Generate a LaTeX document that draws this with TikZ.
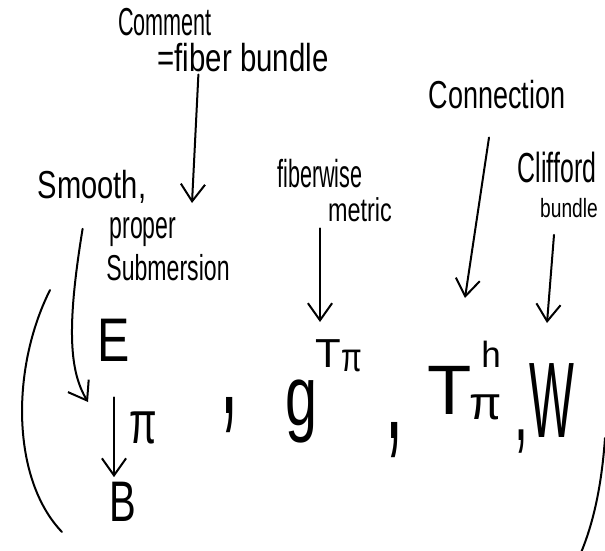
\documentclass[tikz,border=0pt]{standalone}
\usepackage{fontspec}
\setmainfont{Liberation Sans}
\usetikzlibrary{arrows.meta}

\begin{document}
\begin{tikzpicture}[
    x=1pt, y=-1pt,
    >={Straight Barb[length=6mm, width=8.5mm]},
    note/.style={inner sep=0pt, font=\fontsize{30}{32}\selectfont},
    sym/.style={inner sep=0pt},
    pen/.style={line width=2pt, line cap=round},
    hint/.style={pen, ->},
]
\useasboundingbox (0,0) rectangle (605,551);

% ============================ notes =====================================
\node[note] (comment) at (165,22) {\scalebox{0.72}[1.3]{Comment}};
\node[note] (fiber) at (243,58) {\scalebox{0.98}[1.3]{=fiber bundle}};
\node[note] (smooth) at (92,187) {\scalebox{0.97}[1.3]{Smooth,}};
\node[note] (proper) at (143,232) {\scalebox{0.77}[1.3]{proper}};
\node[note] (subm) at (168,268) {\scalebox{0.77}[1.2]{Submersion}};
\node[note] (fiberwise) at (320,174) {\scalebox{0.72}[1.3]{fiberwise}};
\node[note] (metric) at (360,210) {\scalebox{0.78}[1.1]{metric}};
\node[note] (conn) at (497,95) {\scalebox{0.9}[1.3]{Connection}};
\node[note] (clifford) at (557,167) {\scalebox{0.83}[1.4]{Clifford}};
\node[note, font=\fontsize{24}{26}\selectfont] (bundle) at (569,208) {\scalebox{0.8}[1.1]{bundle}};

% ============================ the data ==================================
\node[sym, font=\fontsize{44}{44}\selectfont] (E) at (114,340) {\scalebox{1.1}[1.4]{E}};
\node[sym, font=\fontsize{40}{40}\selectfont] (B) at (123,502) {\scalebox{1.0}[1.43]{B}};
\node[sym, font=\fontsize{40}{40}\selectfont] (pi) at (143,428) {\scalebox{1.0}[1.5]{π}};
\node[sym, font=\fontsize{50}{50}\selectfont] (c1) at (230,415) {\scalebox{1.3}[3]{,}};
\node[sym, font=\fontsize{50}{50}\selectfont] (g) at (301,412) {\scalebox{1.15}[1.7]{g}};
\node[sym, font=\fontsize{30}{30}\selectfont] (gsup) at (339,356)
  {\scalebox{1.4}[1.35]{T}\raisebox{-4pt}{\scalebox{1.0}[1.35]{π}}};
\node[sym, font=\fontsize{50}{50}\selectfont] (c2) at (395,440) {\scalebox{1.3}[3]{,}};
\node[sym, font=\fontsize{50}{50}\selectfont] (T) at (450,390) {\scalebox{1.45}[1.4]{T}};
\node[sym, font=\fontsize{36}{36}\selectfont] (tsub) at (486,407) {\scalebox{1.3}[1.3]{π}};
\node[sym, font=\fontsize{28}{28}\selectfont] (tsup) at (491,354) {\scalebox{1.25}[1.3]{h}};
\node[sym, font=\fontsize{50}{50}\selectfont] (c3) at (521,442) {\scalebox{1.0}[2]{,}};
\node[sym, font=\fontsize{50}{50}\selectfont] (W) at (552,401) {\scalebox{0.95}[2.15]{W}};

% ============================ arrow tips ================================
\coordinate (fibtip) at (192,203);
\coordinate (smtip) at (88,402);
\coordinate (mettip) at (320,322);
\coordinate (contip) at (465,298);
\coordinate (cliftip) at (547,323);

% ============================ arrows ====================================
\draw[hint] ([xshift=41pt, yshift=-2pt]fiber.south west) -- (fibtip);
\draw[hint] ([xshift=45pt, yshift=-25pt]smooth.south west)
  .. controls (66,330) and (70,372) .. (smtip);
\draw[hint] ([yshift=-6pt]fiberwise.south |- metric.south) -- (mettip);
\draw[hint] ([xshift=-8pt, yshift=-28pt]conn.south) -- (contip);
\draw[hint] ([xshift=-15pt, yshift=-17pt]bundle.south) -- (cliftip);
\draw[hint, shorten <=36pt, shorten >=5pt] (E.south) -- (E.south |- B.north);

% ============================ brackets ==================================
\draw[pen] (50,290) .. controls (10,370) and (12,480) .. (62,532);
\draw[pen] (605,438) .. controls (602,480) and (595,520) .. (580,555);

\end{tikzpicture}
\end{document}
